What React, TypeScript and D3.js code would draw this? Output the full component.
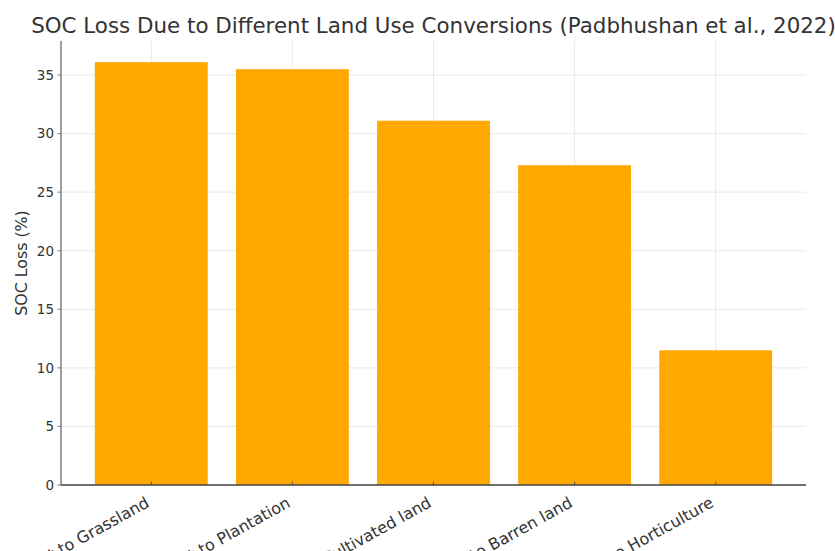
import React from "react";
import * as d3 from "d3";

const categories = [
  "Forest to Grassland",
  "Forest to Plantation",
  "Forest to Cultivated land",
  "Forest to Barren land",
  "Forest to Horticulture",
];
const socLoss = [36.1, 35.5, 31.1, 27.3, 11.5];
const yTicks = [0, 5, 10, 15, 20, 25, 30, 35];
const title = "SOC Loss Due to Different Land Use Conversions (Padbhushan et al., 2022)";
const yLabel = "SOC Loss (%)";

const W = 835;
const H = 551;
const M = { left: 61, right: 29, top: 41, bottom: 66 };
const FONT = "DejaVu Sans, sans-serif";

export default function App() {
  const n = categories.length;
  // bars at 0..n-1, width 0.8, 5% margins
  const dataMin = -0.4;
  const dataMax = n - 1 + 0.4;
  const pad = (dataMax - dataMin) * 0.05;
  const x = d3.scaleLinear().domain([dataMin - pad, dataMax + pad]).range([M.left, W - M.right]);
  const yMax = d3.max(socLoss)! * 1.05;
  const y = d3.scaleLinear().domain([0, yMax]).range([H - M.bottom, M.top]);
  const y0 = y(0);
  const barW = x(0.8) - x(0);

  return (
    <svg width={W} height={H} style={{ position: "absolute", left: 0, top: 0, background: "#fff" }} fontFamily={FONT}>
      {/* grid */}
      {yTicks.map((t) => (
        <line key={"gy" + t} x1={M.left} x2={W - M.right} y1={y(t)} y2={y(t)} stroke="#e8e8e8" strokeWidth={1} />
      ))}
      {categories.map((c, i) => (
        <line key={"gx" + c} x1={x(i)} x2={x(i)} y1={M.top} y2={y0} stroke="#e8e8e8" strokeWidth={1} />
      ))}
      {/* bars */}
      {socLoss.map((v, i) => (
        <rect key={"b" + i} x={x(i) - barW / 2} y={y(v)} width={barW} height={y0 - y(v)} fill="#FFA800" />
      ))}
      {/* x ticks (inward) */}
      {categories.map((c, i) => (
        <line key={"tx" + c} x1={x(i)} x2={x(i)} y1={y0} y2={y0 - 3.5} stroke="#555" strokeWidth={1} />
      ))}
      {/* spines */}
      <line x1={M.left} x2={M.left} y1={M.top} y2={y0} stroke="#777" strokeWidth={1.4} />
      <line x1={M.left} x2={W - M.right} y1={y0} y2={y0} stroke="#444" strokeWidth={1.3} />
      {/* y ticks */}
      {yTicks.map((t) => (
        <g key={"ty" + t}>
          <line x1={M.left - 3.5} x2={M.left} y1={y(t)} y2={y(t)} stroke="#777" strokeWidth={1} />
          <text x={M.left - 7} y={y(t)} dy="0.36em" textAnchor="end" fontSize={13.5} fill="#333">
            {t}
          </text>
        </g>
      ))}
      {/* x labels */}
      {categories.map((c, i) => (
        <text
          key={"lx" + c}
          transform={`translate(${x(i) - 1},${y0 + 21}) rotate(-29)`}
          textAnchor="end"
          fontSize={16}
          fill="#333"
        >
          {c}
        </text>
      ))}
      {/* y label */}
      <text transform={`translate(27,${(M.top + y0) / 2}) rotate(-90)`} textAnchor="middle" fontSize={15.8} fill="#333">
        {yLabel}
      </text>
      {/* title */}
      <text x={(M.left + W - M.right) / 2} y={33} textAnchor="middle" fontSize={21.4} fill="#333">
        {title}
      </text>
    </svg>
  );
}
